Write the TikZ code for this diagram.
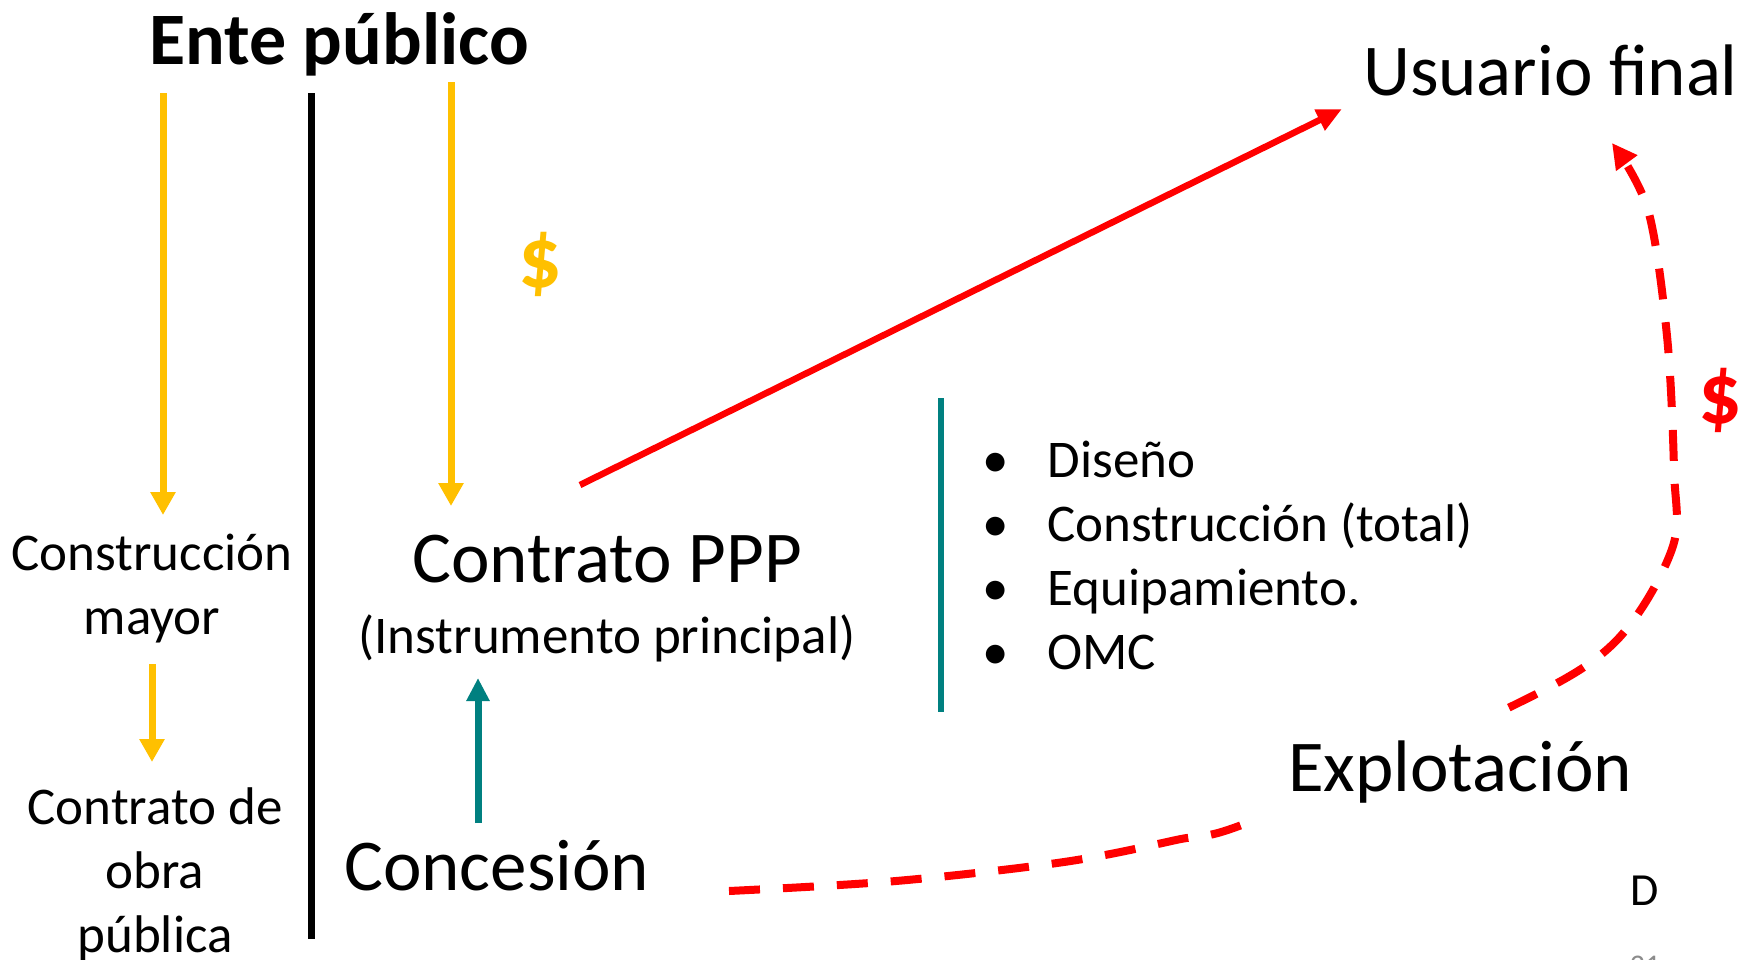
\documentclass[tikz,border=0pt]{standalone}
\usepackage{fontspec}
\setmainfont{Carlito}
\usetikzlibrary{arrows.meta}
\definecolor{goldc}{HTML}{FFC000}
\definecolor{tealc}{HTML}{008080}
\definecolor{redc}{HTML}{FF0000}
\begin{document}
\begin{tikzpicture}[x=1pt,y=-1pt,
  lbl/.style={inner sep=0pt, text=black},
  bigtxt/.style={lbl, font=\fontsize{73}{88}\selectfont},
  midtxt/.style={lbl, font=\fontsize{53}{64}\selectfont, align=center},
  titletxt/.style={lbl, font=\fontsize{74}{88}\selectfont\bfseries},
  dollar/.style={inner sep=0pt, font=\fontsize{86}{90}\selectfont\bfseries},
  goldarrow/.style={draw=goldc, line width=7pt, -{Triangle[length=23pt,width=24pt]}},
  tealarrow/.style={draw=tealc, line width=7pt, -{Triangle[length=23pt,width=22pt]}},
  redarrow/.style={draw=redc, line width=6.5pt, -{Triangle[length=25pt,width=22pt]}},
  reddash/.style={draw=redc, line width=8pt, dash pattern=on 31pt off 23pt, -{Triangle[length=25pt,width=25pt]}},
  divider/.style={draw=black, line width=7pt},
  tealbar/.style={draw=tealc, line width=6pt}
]
\useasboundingbox (0,0) rectangle (1756,959);

% dashed curve (drawn first, hidden behind Explotacion)
\coordinate (dashA) at (729,891);
\coordinate (dashB) at (1612,143);
\draw[reddash] plot[smooth, tension=0.55] coordinates {(dashA) (896,881) (1064,862) (1176,840) (1252,821) (1504,710) (1613,644) (1672,549) (1674,470) (1667,336) (1648,210) (dashB)};

% texts
\node[titletxt, anchor=base] (ente) at (339,64) {Ente público};
\node[bigtxt, anchor=base west] (usuario) at (1363,95) {Usuario final};
\node[midtxt, anchor=base] (constr) at (152,634) {Construcción\\mayor};
\node[midtxt, anchor=base] (obra) at (155,952) {Contrato de\\obra\\pública};
\node[bigtxt, anchor=base] (ppp) at (607,582) {Contrato PPP};
\node[midtxt, anchor=base] (instr) at (607,653) {(Instrumento principal)};
\node[bigtxt, anchor=base west] (conc) at (344,890) {Concesión};
\node[bigtxt, anchor=base west, fill=white, inner xsep=36pt, inner ysep=28pt] (explo) at (1252,791) {Explotación};
\node[lbl, anchor=base west, font=\fontsize{53}{64}\selectfont] (list) at (982,477)
  {\begin{tabular}[t]{@{}l@{\hspace{39pt}}l@{}}
   • & Diseño\\
   • & Construcción (total)\\
   • & Equipamiento.\\
   • & OMC
   \end{tabular}};
\node[dollar, text=goldc] (dolY) at (540,264) {\$};
\node[dollar, text=redc] (dolR) at (1720,400) {\$};
\node[lbl, anchor=base, font=\fontsize{46}{50}\selectfont] (dlet) at (1645,905) {D};
\node[lbl, anchor=base, text=black!45, font=\fontsize{30}{34}\selectfont] (pnum) at (1645,975) {21};

% lines and arrows
\coordinate (divT) at (311,93);
\coordinate (divB) at (311,939);
\draw[divider] (divT) -- (divB);

\coordinate (y1a) at (163,93);
\coordinate (y1b) at (163,515);
\draw[goldarrow] (y1a) -- (y1b);
\coordinate (y2a) at (451,82);
\coordinate (y2b) at (451,506);
\draw[goldarrow] (y2a) -- (y2b);
\coordinate (y3a) at (152,664);
\coordinate (y3b) at (152,762);
\draw[goldarrow] (y3a) -- (y3b);

\coordinate (t1a) at (478,823);
\coordinate (t1b) at (478,678);
\draw[tealarrow] (t1a) -- (t1b);

\coordinate (tbT) at (941,398);
\coordinate (tbB) at (941,712);
\draw[tealbar] (tbT) -- (tbB);

\coordinate (rA) at (580,485);
\coordinate (rB) at (1342,109);
\draw[redarrow] (rA) -- (rB);
\end{tikzpicture}
\end{document}
